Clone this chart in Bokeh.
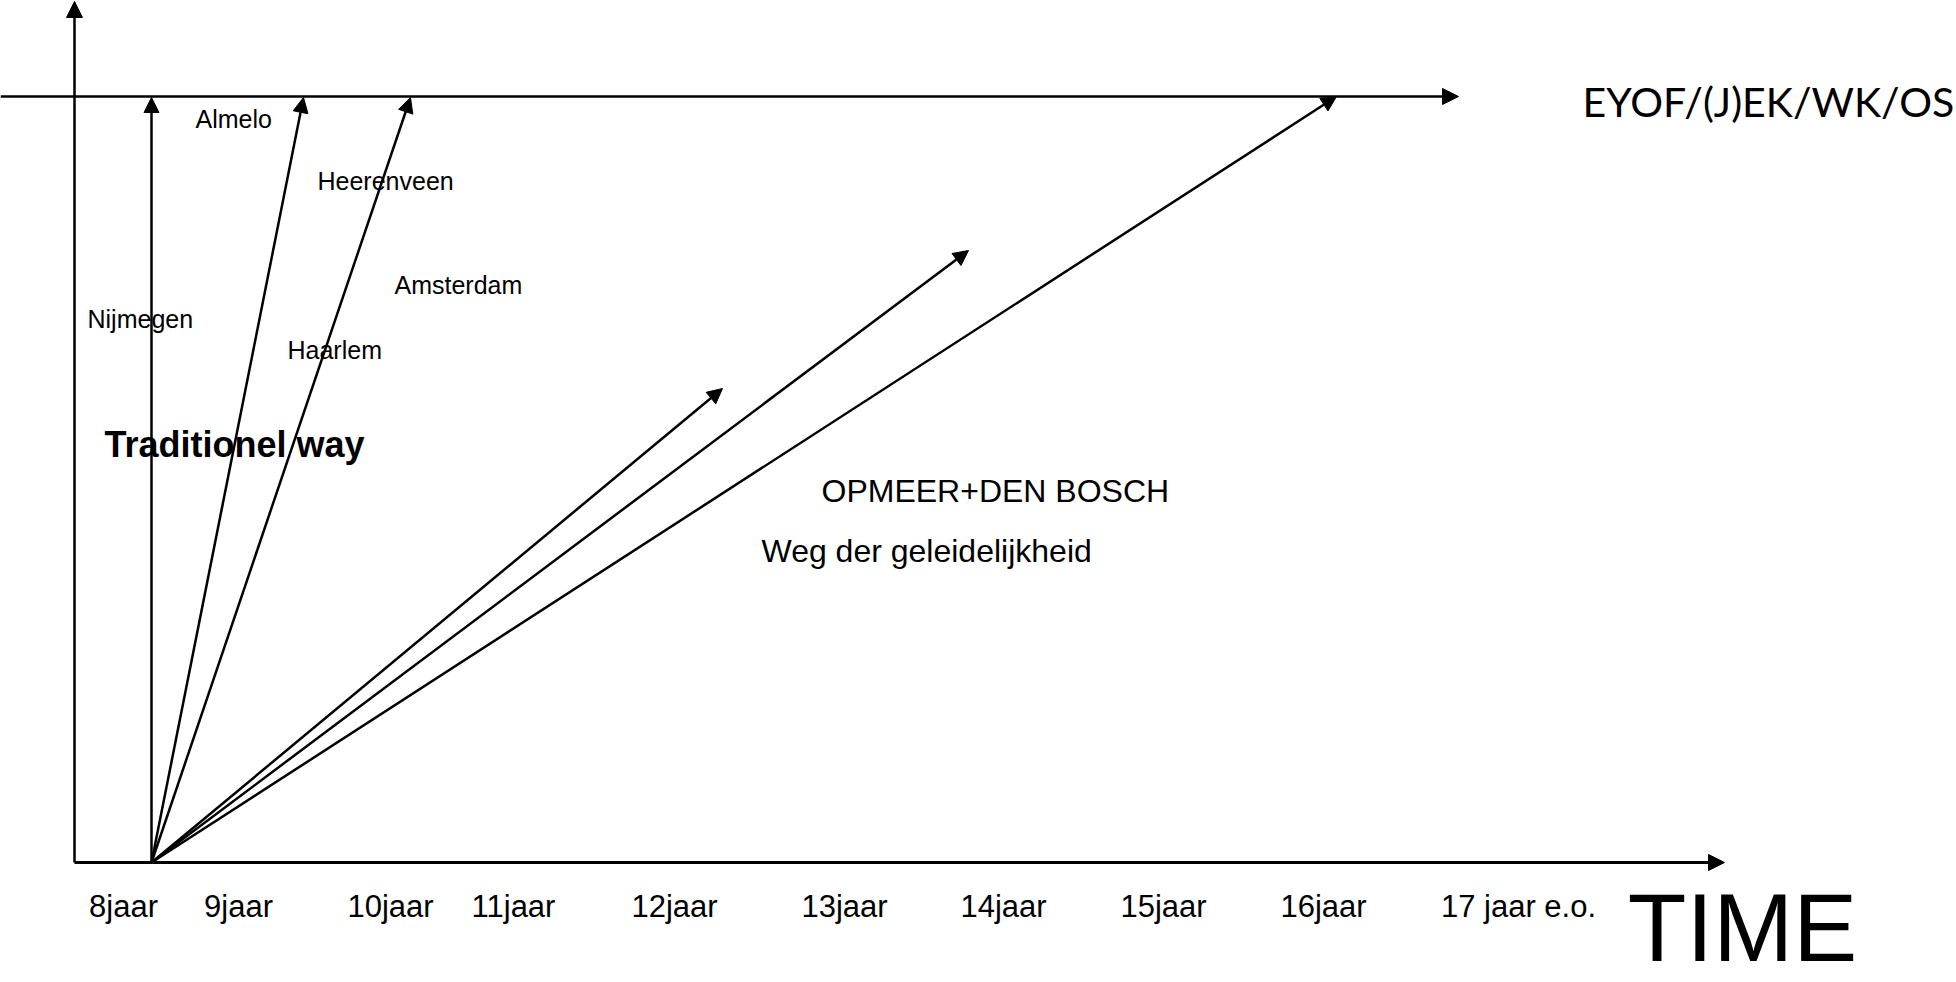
from bokeh.plotting import figure
from bokeh.models import Range1d, Arrow, NormalHead, ColumnDataSource
from bokeh.core.properties import value
from bokeh.embed import file_html
from bokeh.resources import INLINE

# ---- data (diagram coordinates, x to the right, y downward) ----
# frame lines: vertical axis, top "goal" line, time axis
frame_x0 = [74, 0, 74]
frame_y0 = [862, 96, 862]
frame_x1 = [74, 1458, 1724]
frame_y1 = [1, 96, 862]
frame_width = [2.5, 2.5, 3.0]

# development paths, all starting at age 8 on the time axis
path_start_x = [151, 151, 151, 151, 151, 151]
path_start_y = [862, 862, 862, 862, 862, 862]
path_end_x = [151, 303, 410, 722, 968, 1336]
path_end_y = [97, 97, 97, 388, 250, 96]

# time axis tick labels
tick_labels = ["8jaar", "9jaar", "10jaar", "11jaar", "12jaar", "13jaar",
               "14jaar", "15jaar", "16jaar", "17 jaar e.o."]
tick_pos = [123, 238, 390, 513, 674, 844, 1003, 1163, 1323, 1518]
tick_y = [917] * len(tick_labels)

# city labels
city_labels = ["Almelo", "Heerenveen", "Amsterdam", "Nijmegen", "Haarlem"]
city_x = [195, 317, 394, 87, 287]
city_y = [127, 189, 293, 327, 358]

# other annotations
note_labels = ["OPMEER+DEN BOSCH", "Weg der geleidelijkheid"]
note_x = [821, 761]
note_y = [502, 562]

bold_label = ["Traditionel way"]
bold_x = [104]
bold_y = [457]

goal_label = ["EYOF/(J)EK/WK/OS"]
goal_x = [1582]
goal_y = [115]

time_label = ["TIME"]
time_x = [1742]
time_y = [961]

W, H = 1956, 982

# ---- figure ----
p = figure(width=W, height=H, output_backend="svg", toolbar_location=None,
           x_range=Range1d(0, W), y_range=Range1d(H, 0),
           x_axis_type=None, y_axis_type=None, min_border=0,
           min_border_left=0, min_border_right=0, min_border_top=0, min_border_bottom=0)
p.grid.visible = False
p.outline_line_color = None
p.background_fill_color = "white"
p.border_fill_color = "white"

for i in range(len(frame_x0)):
    p.add_layout(Arrow(end=NormalHead(size=16, fill_color="black", line_color="black", line_width=1),
                       x_start=frame_x0[i], y_start=frame_y0[i],
                       x_end=frame_x1[i], y_end=frame_y1[i],
                       line_color="black", line_width=frame_width[i]))

path_src = ColumnDataSource(dict(x0=path_start_x, y0=path_start_y, x1=path_end_x, y1=path_end_y))
p.add_layout(Arrow(end=NormalHead(size=15, fill_color="black", line_color="black", line_width=1),
                   x_start="x0", y_start="y0", x_end="x1", y_end="y1",
                   source=path_src, line_color="black", line_width=2.5))

arial = value("Liberation Sans")


def put(xs, ys, labels, font, size, align="left", style="normal"):
    # the renderer sets the alphabetic baseline about 0.35 em lower than asked
    ys_adj = [y - 0.35 * size for y in ys]
    p.text(x=xs, y=ys_adj, text=labels, text_font=font, text_font_size=f"{size}px",
           text_font_style=style, text_align=align, text_baseline="alphabetic",
           text_color="black")


put(tick_pos, tick_y, tick_labels, arial, 31, align="center")
put(city_x, city_y, city_labels, arial, 25)
put(note_x, note_y, note_labels, arial, 32)
put(bold_x, bold_y, bold_label, arial, 36, style="bold")
put(goal_x, goal_y, goal_label, value("Lato"), 41)
put(time_x, time_y, time_label, arial, 96, align="center")

open("out.html", "w").write(file_html(p, INLINE))
